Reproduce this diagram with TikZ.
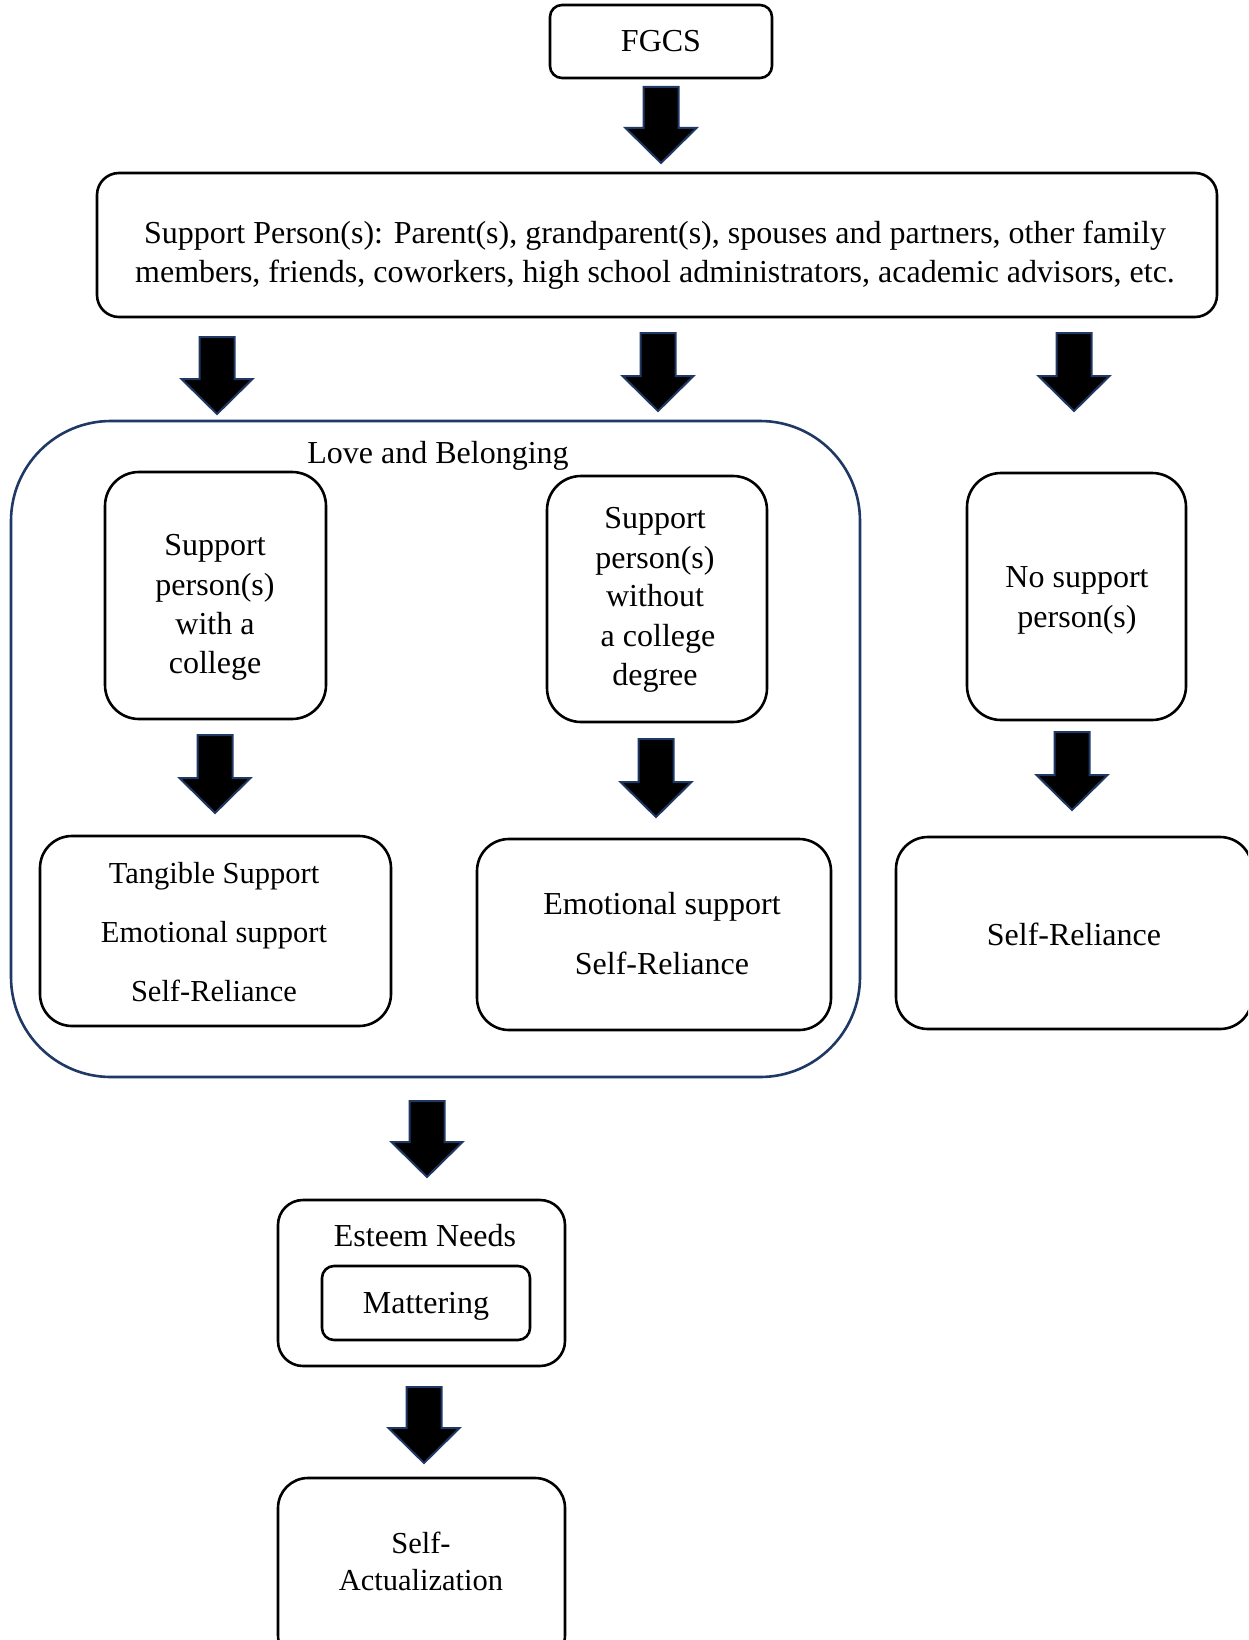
\documentclass[tikz,border=0pt]{standalone}
\usepackage{fontspec}
\setmainfont{Liberation Serif}
\definecolor{navy}{HTML}{1F3864}
\newcommand{\blkarrow}[3]{%
  \draw[blkarrowsty] ({#1-17.5},{#2}) -- ({#1+17.5},{#2}) -- ({#1+17.5},{#3-35}) -- ({#1+35.5},{#3-35}) -- ({#1},{#3}) -- ({#1-35.5},{#3-35}) -- ({#1-17.5},{#3-35}) -- cycle;}
\tikzset{
  blkarrowsty/.style={fill=black, draw=navy, line width=2pt, line join=miter},
  boxsty/.style={draw=black, line width=2.6pt, rectangle, inner sep=0pt, fill=none},
  contsty/.style={draw=navy, line width=2.6pt, rectangle, inner sep=0pt},
  txt/.style={anchor=base, inner sep=0pt, font=\fontsize{32}{38}\selectfont},
  smalltxt/.style={anchor=base, inner sep=0pt, font=\fontsize{30.5}{36}\selectfont}
}
\begin{document}
\begin{tikzpicture}[x=1pt,y=-1pt]
\clip (0,0) rectangle (1248,1640);
\fill[white] (0,0) rectangle (1248,1640);

% boxes
\node[boxsty, rounded corners=12pt, minimum width=222pt, minimum height=73pt] (fgcs) at (661,41.5) {};
\node[boxsty, rounded corners=22pt, minimum width=1120pt, minimum height=144pt] (sup) at (657,245) {};
\node[contsty, rounded corners=100pt, minimum width=849pt, minimum height=656pt] (love) at (435.5,749) {};
\node[boxsty, rounded corners=34pt, minimum width=221pt, minimum height=247pt] (boxA) at (215.5,595.5) {};
\node[boxsty, rounded corners=34pt, minimum width=220pt, minimum height=246pt] (boxB) at (657,599) {};
\node[boxsty, rounded corners=34pt, minimum width=219pt, minimum height=247pt] (boxC) at (1076.5,596.5) {};
\node[boxsty, rounded corners=32pt, minimum width=351pt, minimum height=190pt] (boxD) at (215.5,931) {};
\node[boxsty, rounded corners=32pt, minimum width=354pt, minimum height=191pt] (boxE) at (654,934.5) {};
\node[boxsty, rounded corners=32pt, minimum width=356pt, minimum height=192pt] (boxF) at (1074,933) {};
\node[boxsty, rounded corners=25pt, minimum width=287pt, minimum height=166pt] (esteem) at (421.5,1283) {};
\node[boxsty, rounded corners=12pt, minimum width=208pt, minimum height=74pt] (matter) at (426,1303) {};
\node[boxsty, rounded corners=30pt, minimum width=287pt, minimum height=187pt] (selfact) at (421.5,1571.5) {};

% texts
\node[txt] (tfgcs) at (661,52) {FGCS};
\node[txt] (tsup1) at (655,243) {Support Person(s): Parent(s), grandparent(s), spouses and partners, other family};
\node[txt] (tsup2) at (655,282) {members, friends, coworkers, high school administrators, academic advisors, etc.};
\node[txt] (tlove) at (438,463) {Love and Belonging};
\node[txt] (tA1) at (215,555) {Support};
\node[txt] (tA2) at (215,595) {person(s)};
\node[txt] (tA3) at (215,634) {with a};
\node[txt] (tA4) at (215,673) {college};
\node[txt] (tB1) at (655,528) {Support};
\node[txt] (tB2) at (655,568) {person(s)};
\node[txt] (tB3) at (655,606) {without};
\node[txt] (tB4) at (658,646) {a college};
\node[txt] (tB5) at (655,685) {degree};
\node[txt] (tC1) at (1077,587) {No support};
\node[txt] (tC2) at (1077,627) {person(s)};
\node[smalltxt] (tD1) at (214,883) {Tangible Support};
\node[smalltxt] (tD2) at (214,942) {Emotional support};
\node[smalltxt] (tD3) at (214,1001) {Self-Reliance};
\node[txt] (tE1) at (662,914) {Emotional support};
\node[txt] (tE2) at (662,974) {Self-Reliance};
\node[txt] (tF1) at (1074,945) {Self-Reliance};
\node[txt] (tEst) at (425,1246) {Esteem Needs};
\node[txt] (tMat) at (426,1313) {Mattering};
\node[smalltxt] (tSA1) at (421,1553) {Self-};
\node[smalltxt] (tSA2) at (421,1590) {Actualization};

% block arrows
\blkarrow{661}{87}{163}
\blkarrow{217}{337}{414}
\blkarrow{658}{333}{411}
\blkarrow{1074}{333}{411}
\blkarrow{215}{735}{813}
\blkarrow{656}{739}{817}
\blkarrow{1072}{732}{810}
\blkarrow{427}{1101}{1177}
\blkarrow{424}{1387}{1463}
\end{tikzpicture}
\end{document}
